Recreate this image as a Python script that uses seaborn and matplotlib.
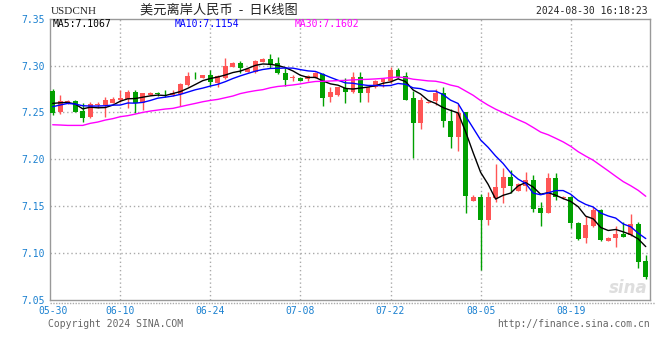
import numpy as np
import pandas as pd
import seaborn as sns
import matplotlib.pyplot as plt
from matplotlib.lines import Line2D

# daily bars (05-30 .. 08-30)
opens = [7.2727, 7.2506, 7.2595, 7.2620, 7.2513, 7.2449, 7.2581, 7.2574, 7.2602, 7.2631,
         7.2638, 7.2716, 7.2602, 7.2684, 7.2709, 7.2695, 7.2684, 7.2695, 7.2791, 7.2902,
         7.2870, 7.2898, 7.2809, 7.2870, 7.2985, 7.3023, 7.2934, 7.2927, 7.3041, 7.3069,
         7.3023, 7.2923, 7.2868, 7.2870, 7.2852, 7.2870, 7.2905, 7.2667, 7.2684, 7.2756,
         7.2720, 7.2873, 7.2709, 7.2766, 7.2827, 7.2837, 7.2951, 7.2887, 7.2649, 7.2389,
         7.2596, 7.2624, 7.2710, 7.2407, 7.2240, 7.2500, 7.1556, 7.1599, 7.1350, 7.1588,
         7.1695, 7.1813, 7.1663, 7.1716, 7.1776, 7.1481, 7.1428, 7.1801, 7.1581, 7.1598,
         7.1314, 7.1160, 7.1285, 7.1456, 7.1128, 7.1153, 7.1196, 7.1189, 7.1306, 7.0911]
highs = [7.2745, 7.2684, 7.2627, 7.2630, 7.2595, 7.2606, 7.2606, 7.2659, 7.2663, 7.2738,
         7.2738, 7.2738, 7.2709, 7.2720, 7.2720, 7.2738, 7.2738, 7.2816, 7.2927, 7.2934,
         7.2902, 7.2951, 7.2898, 7.3076, 7.3041, 7.3048, 7.2970, 7.3059, 7.3077, 7.3123,
         7.3094, 7.2977, 7.2898, 7.2872, 7.2898, 7.2934, 7.2923, 7.2773, 7.2773, 7.2870,
         7.2934, 7.2934, 7.2773, 7.2845, 7.2862, 7.2980, 7.2969, 7.2934, 7.2731, 7.2667,
         7.2624, 7.2746, 7.2767, 7.2532, 7.2589, 7.2507, 7.1617, 7.1627, 7.1649, 7.1948,
         7.1902, 7.1884, 7.1741, 7.1866, 7.1830, 7.1545, 7.1855, 7.1855, 7.1606, 7.1606,
         7.1331, 7.1392, 7.1484, 7.1463, 7.1164, 7.1289, 7.1331, 7.1413, 7.1331, 7.0975]
lows = [7.2467, 7.2481, 7.2588, 7.2499, 7.2399, 7.2442, 7.2542, 7.2453, 7.2595, 7.2613,
        7.2549, 7.2496, 7.2524, 7.2684, 7.2677, 7.2667, 7.2674, 7.2570, 7.2780, 7.2852,
        7.2866, 7.2780, 7.2774, 7.2852, 7.2980, 7.2916, 7.2927, 7.2916, 7.3034, 7.2977,
        7.2906, 7.2781, 7.2834, 7.2835, 7.2837, 7.2862, 7.2570, 7.2613, 7.2674, 7.2595,
        7.2709, 7.2606, 7.2606, 7.2756, 7.2773, 7.2816, 7.2870, 7.2631, 7.2016, 7.2322,
        7.2596, 7.2578, 7.2347, 7.2122, 7.2090, 7.1428, 7.1556, 7.0815, 7.1296, 7.1546,
        7.1535, 7.1635, 7.1663, 7.1663, 7.1438, 7.1285, 7.1420, 7.1563, 7.1570, 7.1267,
        7.1135, 7.1107, 7.1271, 7.1128, 7.1121, 7.1057, 7.1164, 7.1182, 7.0833, 7.0719]
closes = [7.2496, 7.2620, 7.2620, 7.2506, 7.2442, 7.2585, 7.2588, 7.2631, 7.2638, 7.2649,
          7.2716, 7.2602, 7.2702, 7.2709, 7.2691, 7.2691, 7.2709, 7.2805, 7.2887, 7.2894,
          7.2898, 7.2820, 7.2887, 7.2994, 7.3025, 7.2977, 7.2963, 7.3048, 7.3069, 7.3005,
          7.2916, 7.2847, 7.2872, 7.2837, 7.2891, 7.2916, 7.2656, 7.2720, 7.2766, 7.2720,
          7.2880, 7.2709, 7.2773, 7.2837, 7.2852, 7.2951, 7.2873, 7.2631, 7.2389, 7.2632,
          7.2614, 7.2710, 7.2407, 7.2240, 7.2496, 7.1610, 7.1599, 7.1350, 7.1599, 7.1706,
          7.1813, 7.1716, 7.1734, 7.1777, 7.1467, 7.1428, 7.1801, 7.1598, 7.1598, 7.1314,
          7.1146, 7.1296, 7.1456, 7.1135, 7.1153, 7.1200, 7.1171, 7.1306, 7.0904, 7.0744]

# moving averages before enough bars are on screen
ma5_head = [7.2595, 7.2602, 7.2606, 7.2588]
ma10_head = [7.2560, 7.2578, 7.2595, 7.2588, 7.2570, 7.2567, 7.2567, 7.2570, 7.2577]
ma30_head = [7.2367, 7.2364, 7.2360, 7.2360, 7.2360, 7.2382, 7.2396, 7.2417, 7.2432, 7.2453,
             7.2464, 7.2481, 7.2499, 7.2513, 7.2524, 7.2535, 7.2542, 7.2560, 7.2578, 7.2595,
             7.2613, 7.2627, 7.2638, 7.2656, 7.2674, 7.2700, 7.2717, 7.2731, 7.2742]

ma_labels = ['MA5:7.1067', 'MA10:7.1154', 'MA30:7.1602']
tick_labels = ['05-30', '06-10', '06-24', '07-08', '07-22', '08-05', '08-19']
y_ticks = [7.05, 7.10, 7.15, 7.20, 7.25, 7.30, 7.35]

dates = pd.date_range('2024-05-30', '2024-08-30')
dates = dates[dates.dayofweek != 6]  # sina keeps a saturday bar, no sundays

df = pd.DataFrame({'date': dates.strftime('%m-%d'), 'open': opens, 'high': highs,
                   'low': lows, 'close': closes})
df['x'] = np.arange(len(df))


def ma(n, head):
    m = df['close'].rolling(n).mean().to_numpy()
    m[:len(head)] = head
    return m


df['ma5'] = ma(5, ma5_head)
df['ma10'] = ma(10, ma10_head)
df['ma30'] = ma(30, ma30_head)

UP, DOWN = '#ff5555', '#00a000'
BLUE_TXT = '#1a80d0'
W, H = 660, 360

sns.set_style('white')
plt.rcParams['font.family'] = ['DejaVu Sans Mono', 'DejaVu Sans']

fig = plt.figure(figsize=(6.6, 3.6), dpi=100)
ax = fig.add_axes([50 / W, 1 - 299.5 / H, 599.5 / W, 280.8 / H])


def px(x, y):
    return x / W, 1 - y / H


# grid
for yv in y_ticks[1:-1]:
    ax.axhline(yv, color='#aaaaaa', lw=1, ls=(0, (1, 2)), zorder=0)
tick_x = df.loc[df['date'].isin(tick_labels), 'x'].to_numpy()
for xv in tick_x[1:]:
    ax.axvline(xv, color='#aaaaaa', lw=1, ls=(0, (1, 2)), zorder=0)

# watermark
ax.text(0.965, 0.04, 'sina', transform=ax.transAxes, ha='center', va='center',
        fontsize=12, fontweight='bold', style='italic', color='#dedede',
        family='DejaVu Sans', zorder=0.5)

# candles
colors = np.where(df['close'] >= df['open'], UP, DOWN)
ax.vlines(df['x'], df['low'], df['high'], colors=colors, lw=1, zorder=2)
body_lo = np.minimum(df['open'], df['close'])
body_h = np.maximum((df['close'] - df['open']).abs(), 0.0009)
ax.bar(df['x'], body_h, bottom=body_lo, width=0.66, color=colors, lw=0, zorder=3)

# moving averages
sns.lineplot(data=df, x='x', y='ma5', color='black', lw=1, ax=ax, zorder=4)
sns.lineplot(data=df, x='x', y='ma10', color='#0000ff', lw=1, ax=ax, zorder=4)
sns.lineplot(data=df, x='x', y='ma30', color='#ff00ff', lw=1, ax=ax, zorder=4)

ax.set_xlim(-0.36, 79.5)
ax.set_ylim(7.05, 7.35)
ax.set_xticks(tick_x)
ax.set_xticklabels(tick_labels)
ax.set_yticks(y_ticks)
ax.set_yticklabels([f'{v:.2f}' for v in y_ticks])
ax.tick_params(axis='both', length=0, labelsize=7, labelcolor=BLUE_TXT)
ax.tick_params(axis='y', pad=4)
ax.tick_params(axis='x', pad=5)
ax.set_xlabel('')
ax.set_ylabel('')
for s in ax.spines.values():
    s.set_color('#999999')
    s.set_linewidth(1)

# dotted rule under the axis
fig.add_artist(Line2D([50 / W, 655 / W], [1 - 303 / H] * 2, color='#aaaaaa', lw=1,
                      ls=(0, (1, 1))))

# header
fig.text(*px(51, 12), 'USDCNH', family='Liberation Serif', fontsize=8, va='center')
fig.text(*px(219, 10), '美元离岸人民币  -  日K线图', fontsize=9.5, ha='center', va='center',
         family=['Noto Sans CJK SC', 'DejaVu Sans'])
fig.text(*px(648, 11), '2024-08-30 16:18:23', fontsize=7, ha='right', va='center')
for xpos, lab, col in zip([53, 175, 295], ma_labels, ['black', '#0000ff', '#ff00ff']):
    fig.text(*px(xpos, 24), lab, fontsize=7, color=col, va='center')

# footer
fig.text(*px(48, 324), 'Copyright 2024 SINA.COM', fontsize=7, color='#666666', va='center')
fig.text(*px(650, 324), 'http://finance.sina.com.cn', fontsize=7, color='#666666',
         ha='right', va='center')

fig.savefig('out.png', dpi=100)
